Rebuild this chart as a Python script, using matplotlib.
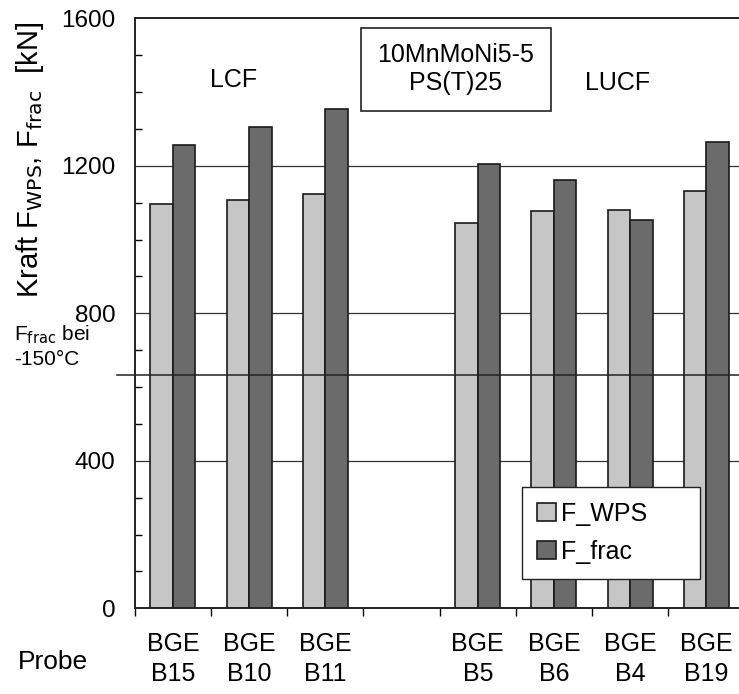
import numpy as np
import matplotlib.pyplot as plt
from matplotlib.patches import Rectangle

plt.rcParams['font.family'] = ['Liberation Sans', 'DejaVu Sans']

# data
proben = ['BGE\nB15', 'BGE\nB10', 'BGE\nB11', '', 'BGE\nB5', 'BGE\nB6', 'BGE\nB4', 'BGE\nB19']
f_wps = [1096, 1107, 1123, np.nan, 1044, 1078, 1080, 1132]
f_frac = [1256, 1305, 1354, np.nan, 1204, 1161, 1053, 1265]
f_frac_150 = 632

fig = plt.figure(figsize=(7.39, 6.94), dpi=100)
ax = fig.add_axes([0.1825, 0.1235, 0.8249, 0.8501])

x = np.arange(len(proben))
w = 0.295
ax.bar(x - w / 2, f_wps, w, color='#c6c6c6', edgecolor='#1a1a1a', linewidth=1.2,
       label='F_WPS', zorder=2)
ax.bar(x + w / 2, f_frac, w, color='#6b6b6b', edgecolor='#1a1a1a', linewidth=1.2,
       label='F_frac', zorder=2)

# gridlines behind bars
for g in [400, 800, 1200]:
    ax.axhline(g, color='#333333', linewidth=0.9, zorder=1)

# line for F_frac at -150 C, drawn over the bars and sticking out left
ax.plot([-0.5 - 0.24, 7.5], [f_frac_150, f_frac_150], color='#222222',
        linewidth=1.1, zorder=3, clip_on=False)

ax.set_xlim(-0.5, 7.5)
ax.set_ylim(0, 1600)

# y axis ticks
ax.set_yticks([0, 400, 800, 1200, 1600])
ax.set_yticks(np.arange(0, 1601, 100), minor=True)
ax.tick_params(axis='y', which='major', length=0, pad=14, labelsize=17.5)
ax.tick_params(axis='y', which='minor', direction='in', length=5, width=1)

# x axis ticks: labels at centers, tick marks at boundaries
ax.set_xticks(x)
ax.set_xticklabels(proben, linespacing=1.3)
ax.set_xticks(np.arange(-0.5, 8, 1), minor=True)
ax.tick_params(axis='x', which='major', length=0, pad=17, labelsize=18)
ax.tick_params(axis='x', which='minor', direction='out', length=6, width=1)

for s in ['left', 'bottom', 'top']:
    ax.spines[s].set_linewidth(1.4)
    ax.spines[s].set_color('#222222')
ax.spines['right'].set_visible(False)

# axis label
fig.text(30 / 739, 1 - 160 / 694, r'Kraft F$_{\rm WPS}$, F$_{\rm frac}$  [kN]',
         rotation=90, ha='center', va='center', fontsize=21)
fig.text(18 / 739, 1 - 662 / 694, 'Probe', ha='left', va='center', fontsize=19)
fig.text(14 / 739, 1 - 346 / 694, 'F$_{\\rm frac}$ bei\n-150°C', ha='left',
         va='center', fontsize=15, linespacing=1.25)

# annotations
fig.text(234 / 739, 1 - 80 / 694, 'LCF', ha='center', va='center', fontsize=18)
fig.text(618 / 739, 1 - 83 / 694, 'LUCF', ha='center', va='center', fontsize=18)
fig.patches.append(Rectangle((361 / 739, 1 - 111 / 694), 190 / 739, 83 / 694,
                             transform=fig.transFigure, facecolor='white',
                             edgecolor='#222222', linewidth=1.2, zorder=4))
fig.text(456 / 739, 1 - 69 / 694, '10MnMoNi5-5\nPS(T)25', ha='center', va='center',
         fontsize=18, linespacing=1.25, zorder=5)

leg = ax.legend(loc='upper left',
                bbox_to_anchor=(522 / 739, 1 - 595 / 694, 178 / 739, 108 / 694),
                bbox_transform=fig.transFigure, mode='expand', fontsize=18,
                frameon=True, fancybox=False, framealpha=1, edgecolor='#222222',
                handlelength=0.75, handleheight=0.75, handletextpad=0.2,
                labelspacing=0.55, borderpad=0.6, borderaxespad=0)
leg.get_frame().set_linewidth(1.0)
leg.set_zorder(5)
# push the entries a bit to the right inside the frame
leg._legend_box.align = 'center'

fig.savefig('out.png', dpi=100)
